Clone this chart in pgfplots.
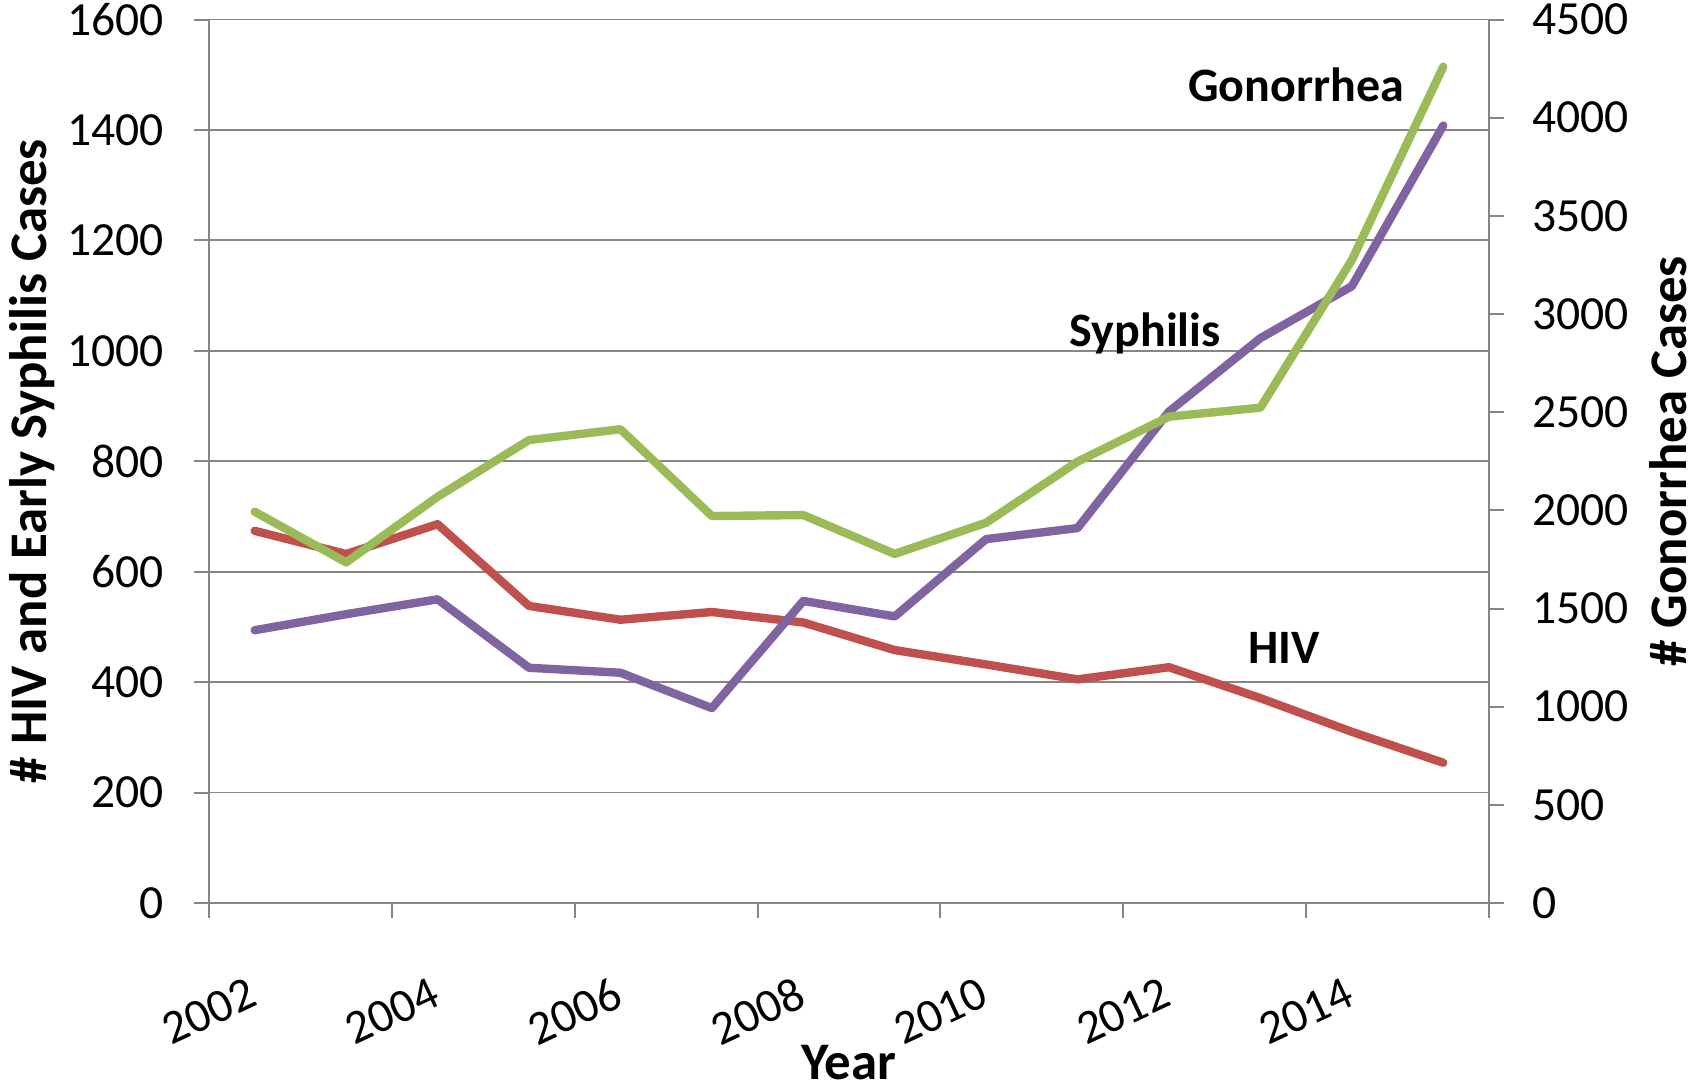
\documentclass[border=0pt]{standalone}
\usepackage{fontspec}
\setmainfont{Carlito}
\usepackage{pgfplots}
\pgfplotsset{compat=1.18}
\definecolor{hiv}{HTML}{C0504D}
\definecolor{syph}{HTML}{8064A2}
\definecolor{gono}{HTML}{9BBB59}
\definecolor{gridc}{HTML}{868686}
\pgfplotsset{
  common/.style={
    at={(52.25pt,45.75pt)}, anchor=south west,
    scale only axis, width=320pt, height=220.875pt,
    xmin=2002, xmax=2016,
    axis line style={-, gridc, line width=0.5pt},
    tick style={gridc, line width=0.5pt},
    major tick length=3.75pt, tick align=outside,
    ticklabel style={font=\fontsize{11.9}{13}\selectfont},
    /pgf/number format/assume math mode=true,
    /pgf/number format/1000 sep={},
  }
}
\begin{document}
\begin{tikzpicture}
\useasboundingbox (0,0) rectangle (424pt,271.5pt);
\begin{axis}[common,
  ymin=0, ymax=1600, ytick={0,200,...,1600},
  axis x line*=bottom, axis y line*=left,
  xtick={2002,2004,...,2016},
  xticklabels={2002,2004,2006,2008,2010,2012,2014,{}},
  xticklabel style={anchor=center, yshift=-23.3pt, rotate=25},
  yticklabel style={xshift=-4pt},
  ymajorgrids, grid style={gridc, line width=0.45pt},
  xlabel={Year},
  ylabel={\# HIV and Early Syphilis Cases},
  every axis x label/.style={at={(axis description cs:0.5,-0.181)}, anchor=center, font=\fontsize{13.2}{15}\selectfont\bfseries},
  every axis y label/.style={at={(axis description cs:-0.1383,0.5)}, rotate=90, anchor=center, font=\fontsize{13.2}{15}\selectfont\bfseries},
]
\addplot[hiv, line width=2.1pt, line cap=round, line join=round] coordinates {
(2002.5,674) (2003.5,632) (2004.5,686) (2005.5,538) (2006.5,513) (2007.5,527) (2008.5,508)
(2009.5,458) (2010.5,432) (2011.5,405) (2012.5,427) (2013.5,371) (2014.5,310) (2015.5,254)};
\addplot[syph, line width=2.1pt, line cap=round, line join=round] coordinates {
(2002.5,494) (2003.5,523) (2004.5,550) (2005.5,426) (2006.5,417) (2007.5,353) (2008.5,547)
(2009.5,519) (2010.5,659) (2011.5,679) (2012.5,890) (2013.5,1023) (2014.5,1117) (2015.5,1408)};
\node[font=\fontsize{12}{14}\selectfont\bfseries, inner sep=0pt] at (axis cs:2013.89,1482) {Gonorrhea};
\node[font=\fontsize{12}{14}\selectfont\bfseries, inner sep=0pt] at (axis cs:2012.24,1031) {Syphilis};
\node[font=\fontsize{12}{14}\selectfont\bfseries, inner sep=0pt] at (axis cs:2013.76,462) {HIV};
\end{axis}
\begin{axis}[common,
  ymin=0, ymax=4500, ytick={0,500,...,4500},
  axis y line*=right, axis x line=none,
  yticklabel style={xshift=3.5pt},
  ylabel={\# Gonorrhea Cases},
  every axis y label/.style={at={(axis description cs:1.14,0.5)}, rotate=90, anchor=center, font=\fontsize{13.2}{15}\selectfont\bfseries},
]
\addplot[gono, line width=2.1pt, line cap=round, line join=round] coordinates {
(2002.5,1993) (2003.5,1735) (2004.5,2069) (2005.5,2358) (2006.5,2413) (2007.5,1971) (2008.5,1976)
(2009.5,1778) (2010.5,1937) (2011.5,2248) (2012.5,2477) (2013.5,2523) (2014.5,3275) (2015.5,4260)};
\end{axis}
\end{tikzpicture}
\end{document}
